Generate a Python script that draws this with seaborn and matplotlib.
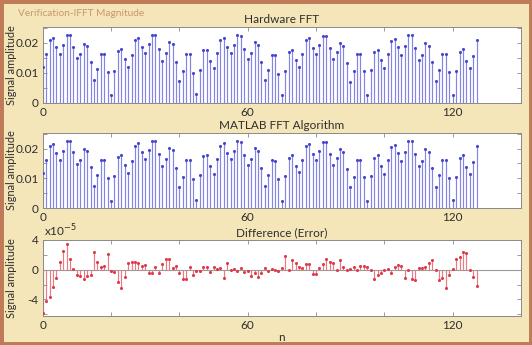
import numpy as np
import pandas as pd
import matplotlib
matplotlib.use("Agg")
import matplotlib.pyplot as plt
from matplotlib.patches import Rectangle
import seaborn as sns

# ---------------- data ----------------
n = list(range(128))

hardware_fft = [
    0.0118, 0.0162, 0.0208, 0.0214, 0.0184, 0.0162, 0.0191, 0.0227, 0.0225, 0.0187,
    0.0149, 0.0163, 0.0197, 0.0190, 0.0137, 0.0075, 0.0111, 0.0162, 0.0162, 0.0103,
    0.0026, 0.0107, 0.0172, 0.0179, 0.0144, 0.0119, 0.0158, 0.0209, 0.0217, 0.0187,
    0.0166, 0.0195, 0.0225, 0.0224, 0.0180, 0.0140, 0.0166, 0.0201, 0.0195, 0.0136,
    0.0071, 0.0105, 0.0162, 0.0162, 0.0098, 0.0028, 0.0110, 0.0175, 0.0177, 0.0140,
    0.0115, 0.0164, 0.0210, 0.0217, 0.0186, 0.0165, 0.0192, 0.0225, 0.0223, 0.0179,
    0.0145, 0.0164, 0.0201, 0.0193, 0.0134, 0.0074, 0.0110, 0.0160, 0.0158, 0.0097,
    0.0025, 0.0107, 0.0168, 0.0177, 0.0141, 0.0120, 0.0161, 0.0210, 0.0215, 0.0183,
    0.0163, 0.0191, 0.0223, 0.0221, 0.0183, 0.0145, 0.0168, 0.0198, 0.0188, 0.0132,
    0.0070, 0.0106, 0.0161, 0.0161, 0.0104, 0.0026, 0.0108, 0.0168, 0.0177, 0.0143,
    0.0116, 0.0163, 0.0205, 0.0213, 0.0184, 0.0160, 0.0188, 0.0226, 0.0224, 0.0181,
    0.0142, 0.0158, 0.0199, 0.0190, 0.0136, 0.0072, 0.0110, 0.0161, 0.0161, 0.0102,
    0.0027, 0.0106, 0.0170, 0.0180, 0.0140, 0.0114, 0.0154, 0.0208,
]

# difference in units of 1e-5
difference = [
    -5.9, -4.2, -3.7, -2.3, -1.1, 1.0, 2.5, 3.5, 1.5, 0.1,
    -0.7, -0.9, -1.3, -0.9, -0.7, 2.4, 1.1, 0.3, 0.5, 2.1,
    -0.2, -0.3, -1.6, -2.5, -1.0, 0.9, 1.1, 1.0, 0.9, 0.5,
    0.6, -0.4, -0.4, 0.3, -0.5, 0.7, 1.4, 1.5, 0.2, 0.5,
    -0.4, -1.3, -1.3, 0.4, -0.7, -0.2, -0.2, 0.3, 0.3, -0.3,
    0.3, 0.1, 0.2, -1.1, 0.9, -0.1, 0.1, -0.2, 0.2, -0.3,
    -0.2, -0.9, -0.4, -1.0, -0.4, 0.2, -0.2, 0.1, 0.0, -0.2,
    0.2, 1.8, -0.1, 1.3, 0.9, 0.4, 0.2, 0.7, 0.7, -0.6,
    -0.6, 0.2, 0.7, 1.5, 1.0, 0.9, -0.1, 1.3, 0.3, -0.1,
    0.1, 0.3, 0.0, 0.5, 0.5, 0.3, -0.1, -1.2, -0.7, -0.4,
    -0.1, 0.1, -0.5, 0.3, 0.6, 0.5, -1.1, -0.1, -1.3, -1.4,
    0.2, 0.2, 0.3, 0.9, 1.3, -0.05, -1.4, -1.1, -2.5, -0.7,
    0.1, 1.4, 1.7, 2.4, 2.3, 0.0, -1.0, -2.2,
]

# MATLAB reference: hardware minus the (tiny) error; visually identical
matlab_fft = list(np.array(hardware_fft) - np.array(difference) * 1e-5)

titles = ["Hardware FFT", "MATLAB FFT Algorithm", "Difference (Error)"]
x_tick_labels = {0: "0", 60: "60", 120: "120"}

# ---------------- style ----------------
sns.set_theme(style="white")
plt.rcParams["font.family"] = ["Lato", "DejaVu Sans"]

BEIGE = "#F4E6B8"
BROWN = "#BF7B57"
TEXT = "#2e2e2e"
SPINE = "#8a8a8a"
FS = 8.5

fig = plt.figure(figsize=(5.32, 3.45), dpi=100)
fig.patch.set_facecolor(BEIGE)

# frame
fig.patches.append(Rectangle((0, 0), 1, 1, transform=fig.transFigure,
                             facecolor=BEIGE, edgecolor=BROWN, linewidth=5,
                             zorder=-10))
fig.text(18 / 532, 1 - 13 / 345, "Verification-IFFT Magnitude", color="#C9976E",
         fontsize=7.3, ha="left", va="center")

L, R = 42.7 / 532, 521 / 532
W = R - L
rows = [(26.7, 102.7), (132.7, 208.3), (240.0, 315.7)]
axes = []
for top, bot in rows:
    ax = fig.add_axes([L, 1 - bot / 345, W, (bot - top) / 345])
    axes.append(ax)

datasets = [hardware_fft, matlab_fft, difference]
for i, (ax, vals) in enumerate(zip(axes, datasets)):
    df = pd.DataFrame({"n": n, "v": vals})
    if i < 2:
        line_c, mark_c = "#8585E8", "#4646CF"
    else:
        line_c, mark_c = "#EA7A84", "#DD3B4A"
    ax.vlines(df["n"], 0, df["v"], color=line_c, linewidth=0.85, zorder=2)
    sns.scatterplot(data=df, x="n", y="v", ax=ax, color=mark_c, s=5,
                    edgecolor=mark_c, linewidth=0.0, zorder=3, legend=False)
    ax.set_facecolor("white")
    ax.set_xlim(0, 140)
    ax.set_xticks(range(0, 141, 20))
    ax.set_xticklabels([x_tick_labels.get(t, "") for t in range(0, 141, 20)])
    if i < 2:
        ax.set_ylim(0, 0.0253)
        ax.set_yticks([0, 0.005, 0.01, 0.015, 0.02, 0.025])
        ax.set_yticklabels(["0", "", "0.01", "", "0.02", ""])
    else:
        ax.set_ylim(-6.2, 4.0)
        ax.set_yticks([-6, -4, -2, 0, 2, 4])
        ax.set_yticklabels(["", "-4", "", "0", "", "4"])
        ax.axhline(0, color="#9a9a9a", linewidth=0.8, zorder=1)
    ax.tick_params(axis="both", which="both", direction="in", length=3,
                   width=0.6, color=SPINE, labelsize=FS, labelcolor=TEXT,
                   top=True, right=True, bottom=True, left=True, pad=3)
    for sp in ax.spines.values():
        sp.set_color(SPINE)
        sp.set_linewidth(0.7)
    ax.set_xlabel("")
    ax.set_ylabel("Signal amplitude", fontsize=7.9, color=TEXT)
    ax.yaxis.set_label_coords(-0.054, 0.5)
    ax.set_title(titles[i], fontsize=FS, color=TEXT, pad=2.5)

axes[2].set_xlabel("n", fontsize=FS, color=TEXT, labelpad=1)
fig.text(44 / 532, 1 - 231 / 345, r"x10$^{-5}$", fontsize=FS, color=TEXT,
         ha="left", va="center")

fig.savefig("out.png", dpi=100, facecolor=BEIGE)
